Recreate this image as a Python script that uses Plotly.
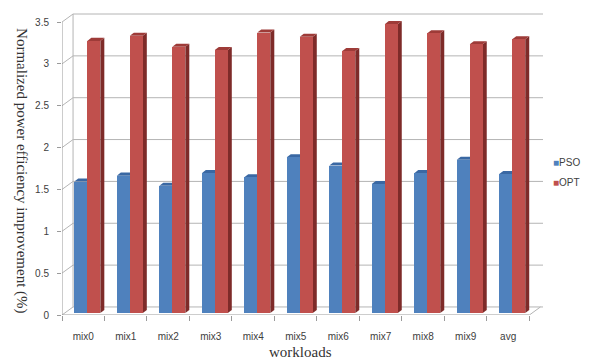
import plotly.graph_objects as go

# Workload categories and normalized power-efficiency improvement per scheme
categories = ["mix0", "mix1", "mix2", "mix3", "mix4", "mix5",
              "mix6", "mix7", "mix8", "mix9", "avg"]
pso = [1.57, 1.64, 1.52, 1.67, 1.62, 1.86, 1.76, 1.54, 1.67, 1.83, 1.66]
opt = [3.25, 3.31, 3.18, 3.14, 3.35, 3.30, 3.13, 3.45, 3.34, 3.21, 3.27]
y_ticks = [0, 0.5, 1, 1.5, 2, 2.5, 3, 3.5]

# Pseudo-3D geometry (axis units)
X_MAX, Y_MAX = 10.82, 3.62
WALL_DX, WALL_DY = 0.26, 0.096      # depth of the back wall
BAR_DX, BAR_DY = 0.094, 0.036       # depth of each column
BAR_BASE = 0.025                    # columns stand a little behind the front edge
BAR_W = 0.306
OFFSETS = {"PSO": -0.21, "OPT": 0.096}

COLORS = {
    "PSO": dict(front="#4F81BD", side="#2F5583", top="#3A68A3"),
    "OPT": dict(front="#C0504D", side="#7E2B29", top="#9E3B38"),
}
GRID = "#B4B4B4"
AXIS = "#9A9A9A"

n = len(categories)
xs = list(range(n))
shapes = []

# back wall gridlines and left wall
for v in y_ticks:
    shapes.append(dict(type="line", xref="x", yref="y",
                       x0=-0.5 + WALL_DX, x1=X_MAX, y0=v + WALL_DY, y1=v + WALL_DY,
                       line=dict(color=GRID, width=1), layer="below"))
    shapes.append(dict(type="line", xref="x", yref="y",
                       x0=-0.5, x1=-0.5 + WALL_DX, y0=v, y1=v + WALL_DY,
                       line=dict(color=GRID, width=1), layer="below"))
top = y_ticks[-1]
shapes.append(dict(type="line", xref="x", yref="y", x0=-0.5 + WALL_DX, x1=-0.5 + WALL_DX,
                   y0=WALL_DY, y1=top + WALL_DY, line=dict(color=GRID, width=1), layer="below"))
shapes.append(dict(type="line", xref="x", yref="y", x0=-0.5, x1=-0.5,
                   y0=0, y1=top, line=dict(color=AXIS, width=1), layer="below"))
# floor front edge and right edge
shapes.append(dict(type="line", xref="x", yref="y", x0=-0.5, x1=n - 0.5,
                   y0=0, y1=0, line=dict(color=AXIS, width=1), layer="below"))
shapes.append(dict(type="line", xref="x", yref="y", x0=n - 0.5, x1=n - 0.5 + WALL_DX,
                   y0=0, y1=WALL_DY, line=dict(color=GRID, width=1), layer="below"))

# side and top faces of each column
for name, vals in (("PSO", pso), ("OPT", opt)):
    c = COLORS[name]
    for i, v in enumerate(vals):
        xl = i + OFFSETS[name]
        xr = xl + BAR_W
        yt = BAR_BASE + v
        shapes.append(dict(type="path", xref="x", yref="y", layer="below",
                           path=f"M{xr},{BAR_BASE} L{xr},{yt} L{xr+BAR_DX},{yt+BAR_DY} "
                                f"L{xr+BAR_DX},{BAR_BASE+BAR_DY} Z",
                           fillcolor=c["side"], line=dict(width=0)))
        shapes.append(dict(type="path", xref="x", yref="y", layer="below",
                           path=f"M{xl},{yt} L{xr},{yt} L{xr+BAR_DX},{yt+BAR_DY} "
                                f"L{xl+BAR_DX},{yt+BAR_DY} Z",
                           fillcolor=c["top"], line=dict(width=0)))

fig = go.Figure()
for name, vals in (("PSO", pso), ("OPT", opt)):
    fig.add_trace(go.Bar(
        x=xs, y=vals, base=BAR_BASE, name=name, width=BAR_W, offset=OFFSETS[name],
        marker=dict(color=COLORS[name]["front"], line=dict(width=0)),
        showlegend=False,
    ))

annotations = [
    dict(text="Normalized power efficiency improvement (%)", textangle=90,
         xref="paper", yref="paper", x=-0.083, y=0.478, showarrow=False,
         xanchor="center", yanchor="middle",
         font=dict(family="Liberation Serif", size=15, color="#333333")),
    dict(text="workloads", xref="paper", yref="paper", x=0.495, y=-0.122,
         showarrow=False, xanchor="center", yanchor="middle",
         font=dict(family="Liberation Serif", size=15, color="#333333")),
]
# legend entries
for k, name in enumerate(["PSO", "OPT"]):
    annotations.append(dict(
        text=f'<span style="color:{COLORS[name]["front"]}">■</span>{name}',
        xref="paper", yref="paper", x=1.017, y=0.503 - k * 0.066,
        showarrow=False, xanchor="left", yanchor="middle",
        font=dict(family="Liberation Sans", size=10, color="#404040")))

fig.update_layout(
    width=590, height=361,
    margin=dict(l=62, r=47, t=12, b=46),
    paper_bgcolor="white", plot_bgcolor="white",
    bargap=0, showlegend=False,
    shapes=shapes, annotations=annotations,
    xaxis=dict(range=[-0.5, X_MAX], tickmode="array", tickvals=xs, ticktext=categories,
               ticks="", showgrid=False, zeroline=False, showline=False,
               ticklabelstandoff=14,
               minor=dict(tick0=-0.5, dtick=1, ticks="outside", ticklen=5,
                          tickcolor=AXIS, showgrid=False),
               tickfont=dict(family="Liberation Sans", size=10, color="#404040")),
    yaxis=dict(range=[0, Y_MAX], tickmode="array", tickvals=y_ticks,
               ticks="outside", ticklen=4, tickcolor=AXIS,
               showgrid=False, zeroline=False, showline=False,
               ticklabelstandoff=6,
               tickfont=dict(family="Liberation Sans", size=10, color="#404040")),
)

fig.write_html("out.html")
